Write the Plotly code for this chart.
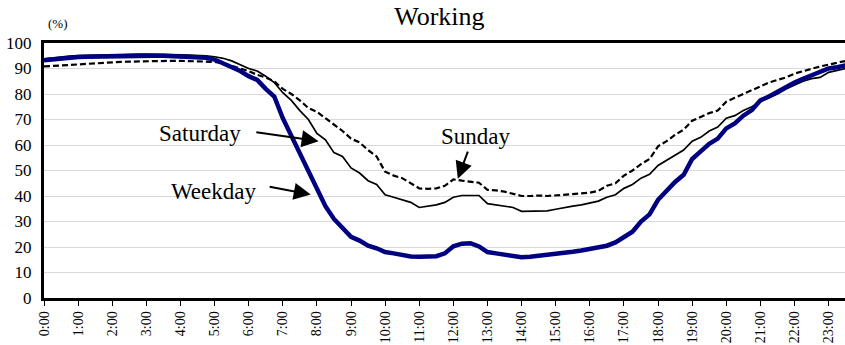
import plotly.graph_objects as go

# 15-minute slots over the day, as decimal hours (0:00 ... 23:45)
slot_hours = [q / 4 for q in range(96)]
hour_ticks = list(range(24))
hour_labels = [f"{h}:00" for h in hour_ticks]

weekday = [
    93.2, 93.6, 94.0, 94.3,  94.5, 94.6, 94.7, 94.8,  94.9, 95.0, 95.0, 95.0,
    95.0, 95.0, 95.0, 94.9,  94.8, 94.7, 94.5, 94.2,  93.5, 92.0, 90.5, 89.0,
    87.0, 85.5, 82.0, 79.0,  70.5, 63.5, 56.0, 49.5,  42.0, 36.0, 31.0, 27.5,
    24.0, 22.5, 20.5, 19.5,  18.0, 17.5, 16.8, 16.3,  16.2, 16.3, 16.4, 17.5,
    20.3, 21.3, 21.5, 20.2,  18.0, 17.5, 17.0, 16.5,  16.0, 16.2, 16.5, 16.9,
    17.3, 17.7, 18.1, 18.6,  19.2, 19.8, 20.5, 21.8,  24.0, 26.0, 30.0, 32.8,
    38.5, 42.0, 45.5, 48.3,  54.5, 57.5, 60.5, 62.5,  66.5, 68.5, 71.5, 73.7,
    77.5, 79.0, 81.0, 83.0,  84.5, 86.0, 87.4, 88.5,  90.0, 90.5, 91.3, 92.0,
]

saturday = [
    93.8, 94.2, 94.6, 94.9,  95.1, 95.2, 95.3, 95.4,  95.5, 95.5, 95.6, 95.6,
    95.6, 95.6, 95.5, 95.5,  95.4, 95.3, 95.2, 95.0,  94.6, 94.0, 93.0, 91.5,
    90.0, 89.0, 87.0, 84.5,  80.5, 77.5, 73.5, 70.0,  64.5, 62.0, 57.0, 55.5,
    51.0, 49.0, 46.0, 44.5,  40.5, 39.5, 38.5, 37.5,  35.5, 36.0, 36.5, 37.5,
    39.5, 40.2, 40.3, 40.2,  37.0, 36.5, 36.0, 35.5,  34.0, 34.0, 34.0, 34.2,
    34.8, 35.5, 36.0, 36.5,  37.2, 38.0, 39.5, 40.5,  43.0, 44.5, 47.0, 48.5,
    52.0, 54.0, 56.0, 58.0,  61.5, 63.0, 65.5, 67.0,  70.5, 71.5, 73.5, 75.0,
    77.0, 78.5, 80.0, 82.0,  83.5, 85.0, 86.0, 86.5,  88.5, 89.2, 90.0, 90.8,
]

sunday = [
    90.8, 91.0, 91.3, 91.5,  91.8, 92.0, 92.2, 92.4,  92.5, 92.6, 92.7, 92.8,
    92.9, 93.0, 93.0, 93.0,  93.0, 92.9, 92.8, 92.7,  92.6, 92.0, 91.0, 90.0,
    89.0, 87.5, 86.5, 85.0,  82.0, 80.0, 77.5, 74.5,  73.0, 70.5, 68.0, 65.5,
    62.5, 61.0, 58.0, 55.5,  49.5, 48.0, 47.0, 45.0,  43.0, 42.8, 43.0, 44.0,
    46.5, 46.0, 45.5, 45.2,  42.4, 42.2, 41.7, 40.8,  40.0, 40.0, 40.2, 40.0,
    40.2, 40.4, 40.8, 41.0,  41.3, 42.0, 44.0, 45.0,  48.0, 50.0, 52.5, 54.5,
    59.5, 61.5, 64.0, 66.0,  69.5, 71.0, 72.5, 73.5,  77.0, 78.5, 80.0, 81.5,
    83.0, 84.5, 85.5, 86.5,  88.0, 89.0, 90.0, 90.8,  91.5, 92.3, 93.0, 93.5,
]

SERIF = "Liberation Serif, Times New Roman, serif"

fig = go.Figure()
fig.add_trace(go.Scatter(x=slot_hours, y=sunday, mode="lines", name="Sunday",
                         line=dict(color="black", width=2.2, dash="6px,3px")))
fig.add_trace(go.Scatter(x=slot_hours, y=saturday, mode="lines", name="Saturday",
                         line=dict(color="black", width=1.7)))
fig.add_trace(go.Scatter(x=slot_hours, y=weekday, mode="lines", name="Weekday",
                         line=dict(color="#000080", width=4.5)))

# Series labels with pointer arrows
labels = [
    # text, text position, arrow tail, arrow head
    ("Saturday", (4.57, 64.7), (6.18, 65.1), (8.05, 61.5)),
    ("Weekday", (4.98, 41.7), (6.57, 43.7), (7.82, 40.6)),
    ("Sunday", (12.66, 63.5), (12.44, 58.0), (12.13, 46.8)),
]
for text, (tx, ty), (ax, ay), (hx, hy) in labels:
    fig.add_annotation(x=tx, y=ty, text=text, showarrow=False,
                       font=dict(family=SERIF, size=23, color="black"))
    fig.add_annotation(x=hx, y=hy, ax=ax, ay=ay, axref="x", ayref="y",
                       text="", showarrow=True, arrowhead=2, arrowsize=1.7,
                       arrowwidth=2, arrowcolor="black", standoff=0)

fig.add_annotation(xref="paper", yref="paper", x=0.017, y=1.04, text="(%)",
                   showarrow=False, xanchor="center", yanchor="bottom",
                   font=dict(family=SERIF, size=13, color="black"))

fig.update_layout(
    width=845, height=345,
    margin=dict(l=44, r=0, t=43, b=47),
    paper_bgcolor="white", plot_bgcolor="white",
    showlegend=False,
    title=dict(text="Working", x=0.52, xanchor="center", y=0.955, yanchor="middle",
               font=dict(family=SERIF, size=26, color="black")),
    font=dict(family=SERIF, color="black"),
)
fig.update_xaxes(
    range=[0, 23.48], tickmode="array", tickvals=hour_ticks, ticktext=hour_labels,
    tickangle=-90, tickfont=dict(family=SERIF, size=14, color="black"),
    ticks="outside", ticklen=5, tickwidth=1, tickcolor="black",
    showgrid=False, zeroline=False,
    showline=True, linecolor="black", linewidth=2.5, mirror=True,
)
fig.update_yaxes(
    range=[0, 100], tickmode="array", tickvals=list(range(0, 101, 10)),
    tickfont=dict(family=SERIF, size=17, color="black"),
    ticks="", ticklabelstandoff=6,
    showgrid=True, gridcolor="#d9d9d9", gridwidth=1, zeroline=False,
    showline=True, linecolor="black", linewidth=3,
)

fig.write_html("out.html")
